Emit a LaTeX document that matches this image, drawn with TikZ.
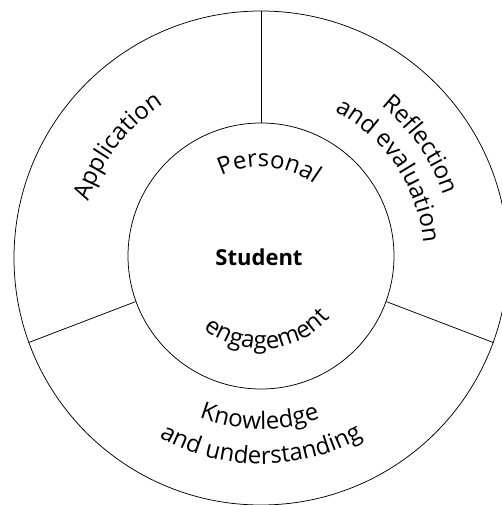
\documentclass[tikz,border=0pt]{standalone}
\usepackage{fontspec}
\newfontfamily\lab{Open Sans}
\usetikzlibrary{decorations.text}
\newcommand{\labsize}{\lab\fontsize{24}{24}\selectfont}
\tikzset{
  ring/.style={circle, draw, line width=0.75pt, inner sep=0pt},
  divider/.style={line width=0.75pt},
  arctext/.style={decorate, decoration={text along path, text align=center, text={|\labsize|#1}}}
}
\begin{document}
\begin{tikzpicture}[x=1pt,y=1pt]
\useasboundingbox (-261,-248) rectangle (241,257);
\node[ring, minimum size=494pt] (outer) at (0,-1) {};
\node[ring, minimum size=266pt] (inner) at (0,1) {};
\draw[divider] (inner.90) -- (outer.90);
\draw[divider] (inner.200) -- (outer.200);
\draw[divider] (inner.-20) -- (outer.-20);
\node[font=\lab\bfseries\fontsize{22}{22}\selectfont] (student) at (-2,0) {Student};
% outer ring labels
\path[arctext={Application}] (0,0) ++(180:181) arc[start angle=180, end angle=105, radius=181];
\path[arctext={Reflection}] (0,0) ++(72:193) arc[start angle=72, end angle=-2, radius=193];
\path[arctext={and evaluation}] (0,0) ++(82:163) arc[start angle=82, end angle=-14, radius=163];
\path[arctext={Knowledge}] (0,0) ++(225:172) arc[start angle=225, end angle=314, radius=172];
\path[arctext={and understanding}] (0,0) ++(220:207) arc[start angle=220, end angle=320, radius=207];
% inner circle labels
\path[arctext={Personal}] (0,0) ++(145:90) arc[start angle=145, end angle=25, radius=90];
\path[arctext={engagement}] (0,0) ++(195:92) arc[start angle=195, end angle=355, radius=92];
\end{tikzpicture}
\end{document}
